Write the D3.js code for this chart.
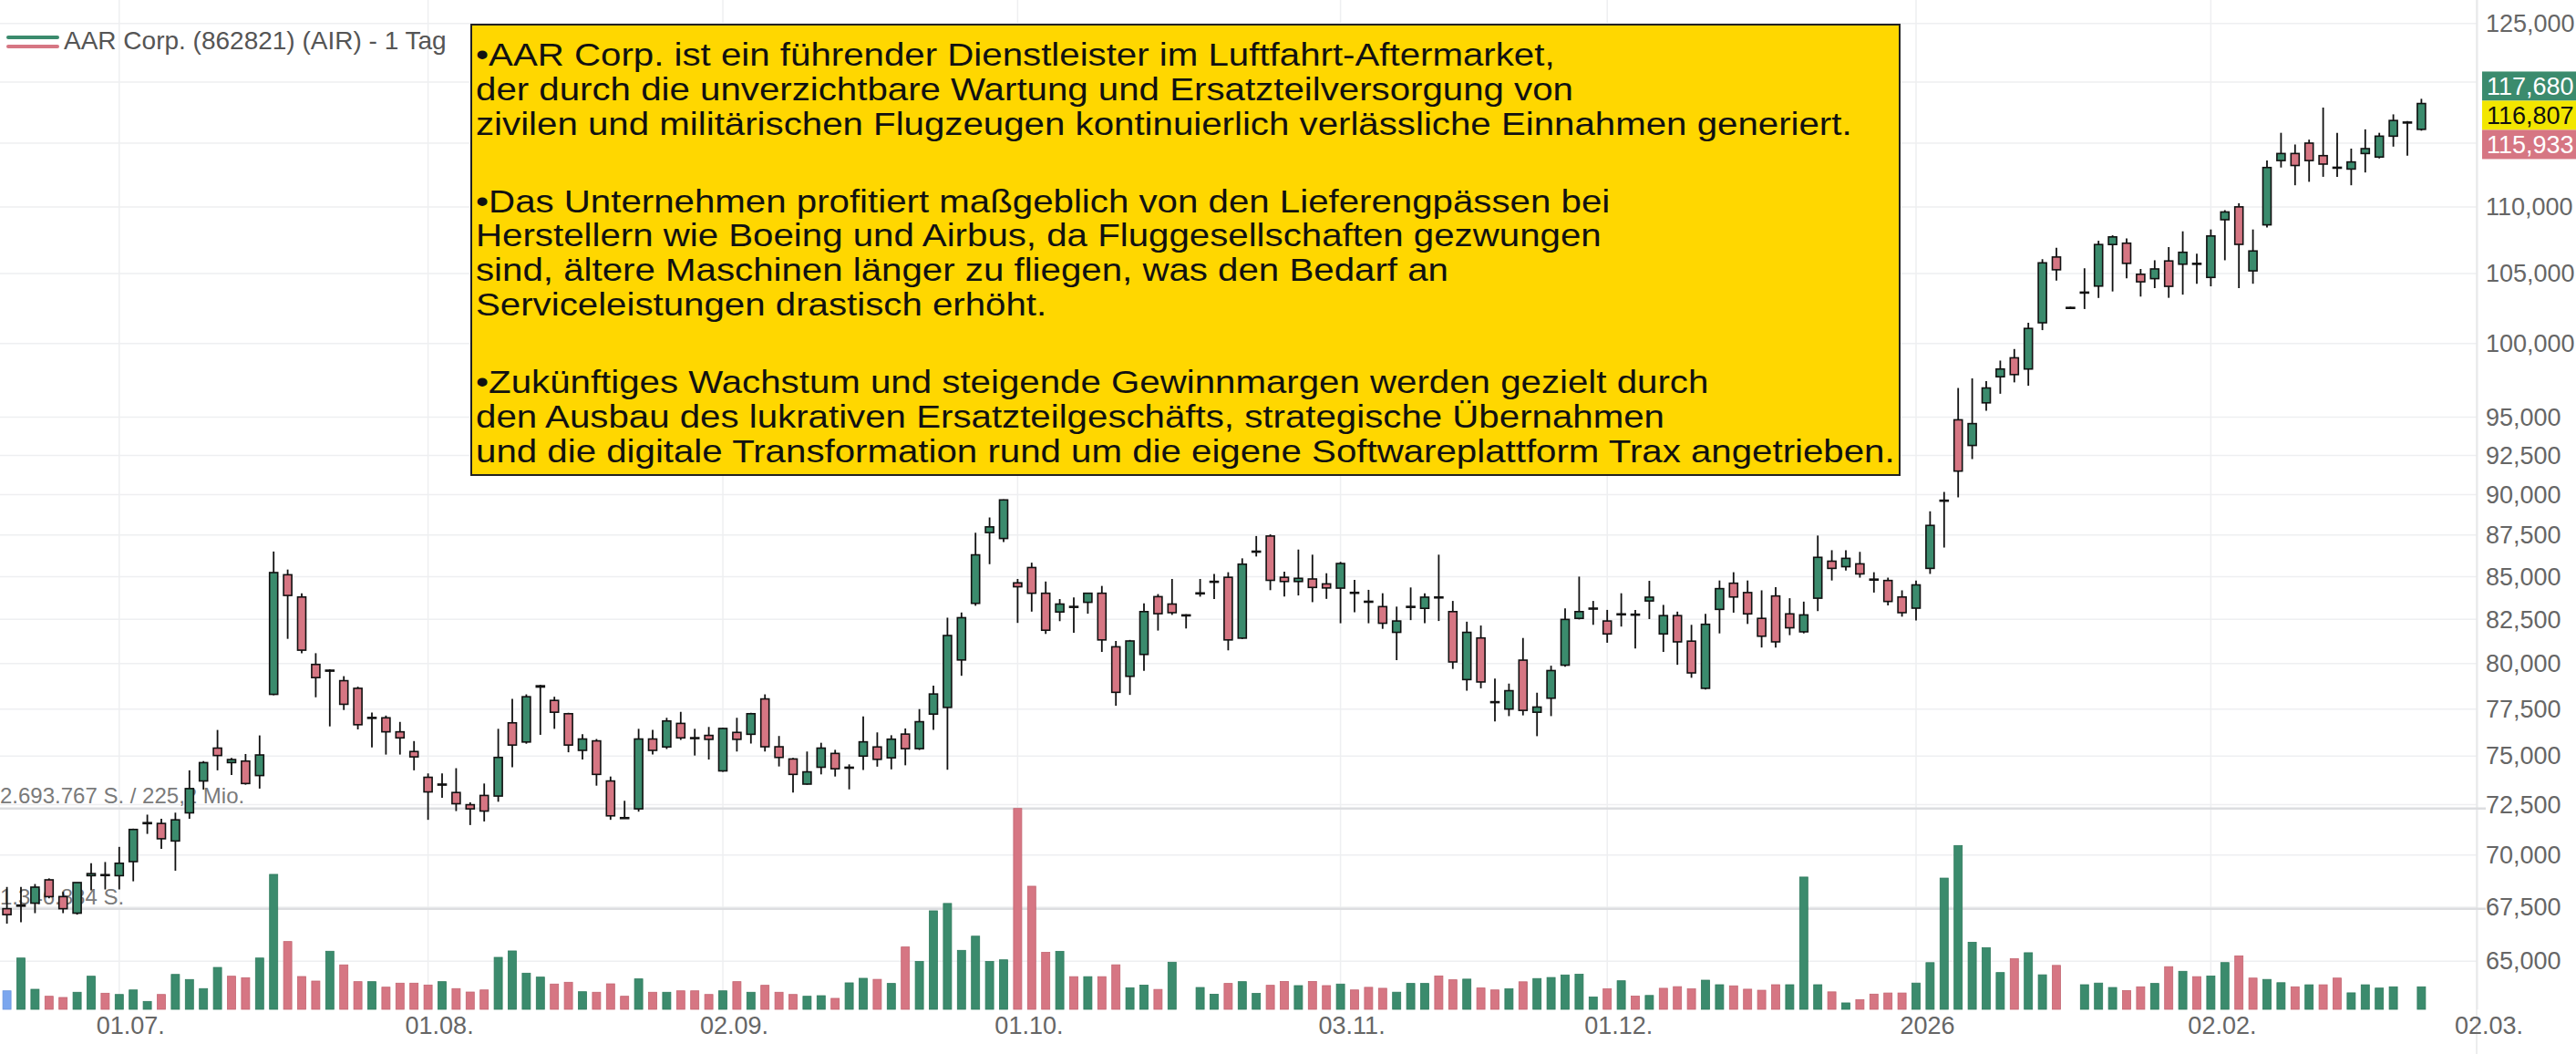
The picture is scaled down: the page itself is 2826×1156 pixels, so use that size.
<!DOCTYPE html>
<html>
<head>
<meta charset="utf-8">
<script src="https://cdn.jsdelivr.net/npm/d3@7"></script>
<style>
  html, body { margin: 0; padding: 0; background: #fff; }
  svg { display: block; font-family: "Liberation Sans", Arial, sans-serif; }
</style>
</head>
<body>
<div id="chart"></div>
<script>
// daily candles, index 0 = 18.06.2025
var opens = [67.43,67.55,67.69,68.8,68.0,67.22,69.0,69.05,69.0,69.68,71.55,71.56,70.69,72.09,73.71,75.42,74.66,74.74,73.99,78.3,
  85.11,83.8,79.95,79.63,79.05,78.63,77.0,77.03,76.28,75.24,73.9,73.5,73.12,72.5,72.97,72.94,76.76,75.74,78.77,77.97,
  77.25,75.3,75.8,73.71,71.85,72.29,75.9,75.48,76.73,75.97,76.09,74.23,76.25,76.15,78.05,75.49,74.85,73.55,74.42,75.14,
  74.42,75.0,75.48,74.91,76.16,75.39,77.23,77.59,80.2,83.43,87.65,87.29,84.63,85.54,84.02,82.93,83.2,83.49,84.02,80.94,
  79.29,80.51,83.82,83.39,82.76,84.0,84.7,84.96,81.43,86.5,87.44,84.96,84.71,84.86,84.57,84.32,84.05,83.55,83.24,81.76,
  83.22,83.14,83.8,82.95,79.11,81.44,77.85,77.5,80.19,77.33,78.09,79.91,82.56,83.12,82.41,82.8,82.8,83.57,81.67,82.72,
  81.26,78.63,83.08,84.61,84.06,82.56,83.86,82.82,81.79,83.73,85.92,85.59,85.76,84.85,84.77,83.8,83.15,85.49,89.6,94.82,
  93.14,95.95,97.71,99.01,98.24,101.46,106.22,102.5,103.6,104.09,107.15,107.25,104.95,104.63,105.93,105.69,105.7,104.72,109.02,110.0,
  105.2,108.63,113.61,114.17,115.0,114.0,113.05,112.94,114.17,113.89,115.56,116.65,116.11];
var highs = [68.46,68.46,68.6,68.87,68.22,68.67,69.6,69.66,70.4,71.3,72.0,71.79,72.1,74.26,74.74,76.38,74.9,75.11,76.09,86.5,
  85.42,84.02,80.58,79.68,79.3,78.72,77.31,77.15,76.81,75.79,74.1,74.1,74.37,72.62,73.58,76.44,78.05,78.3,78.82,78.17,
  77.3,76.16,75.9,73.94,72.7,76.44,76.38,77.03,77.35,76.44,76.54,76.5,77.03,77.3,78.3,76.06,74.9,75.24,75.7,75.33,
  74.57,77.11,76.25,76.1,76.46,77.5,78.78,82.6,82.9,87.64,88.58,89.7,84.86,85.83,84.71,83.68,83.78,84.05,84.45,81.27,
  81.33,83.43,83.97,84.86,82.8,84.86,85.16,85.26,86.09,87.44,87.54,85.29,86.62,86.31,85.2,85.88,84.8,84.22,84.02,83.24,
  84.36,84.02,86.31,83.57,82.37,82.15,79.16,78.89,81.44,78.39,79.88,83.14,85.0,83.57,83.05,84.02,83.05,84.75,83.34,82.95,
  82.19,82.82,84.77,85.26,84.77,84.19,84.38,83.73,83.53,87.47,86.58,86.58,86.48,85.26,84.94,84.19,84.77,88.96,90.17,96.95,
  97.6,97.41,98.82,99.62,101.46,106.06,106.91,102.6,105.39,107.43,107.84,107.6,105.34,105.98,106.96,108.14,106.47,108.28,109.75,110.28,
  108.28,113.61,115.83,114.89,115.28,117.89,115.83,114.56,116.11,115.83,117.33,116.78,118.61];
var lows = [66.73,66.8,67.22,67.92,67.22,67.15,68.3,68.34,68.34,68.73,71.04,70.3,69.24,71.79,73.27,74.26,74.02,73.52,73.32,78.25,
  81.39,80.58,78.14,76.57,77.45,76.41,75.45,75.08,75.08,74.26,71.74,72.85,72.18,71.48,71.66,72.65,74.42,75.65,76.12,76.44,
  75.2,74.82,73.47,71.74,71.8,72.15,75.09,75.37,75.85,75.03,74.82,74.18,75.24,75.66,75.24,74.46,73.12,73.52,74.05,73.94,
  73.28,74.28,74.45,74.31,74.52,75.32,76.39,74.29,79.32,83.29,85.74,87.07,82.3,82.95,81.67,82.4,81.73,82.83,80.65,77.68,
  78.27,79.59,81.86,82.76,81.98,83.82,83.68,80.74,81.38,86.2,84.2,83.83,83.89,83.5,83.69,82.28,82.91,82.28,81.96,80.19,
  82.46,82.28,82.41,79.7,78.5,78.63,76.83,77.12,77.16,76.05,77.12,79.82,82.5,82.19,81.17,82.09,80.85,82.52,80.65,79.93,
  79.21,78.57,81.7,82.89,82.24,80.9,80.9,81.6,81.7,82.98,84.77,85.36,84.94,84.06,83.31,82.66,82.44,85.16,86.74,89.83,
  92.26,95.42,96.56,97.33,97.1,100.94,104.49,102.45,102.44,103.23,103.7,104.65,103.33,103.94,103.24,103.47,104.26,104.07,105.98,103.94,
  104.26,108.43,113.06,111.67,111.94,112.33,112.33,111.67,112.67,113.78,114.72,114.0,116.0];
var closes = [67.15,67.6,68.45,68.0,67.43,68.67,69.1,69.02,69.6,71.26,71.6,70.8,71.74,73.32,74.66,75.03,74.82,73.58,75.06,85.24,
  83.89,80.75,79.22,79.6,77.76,76.66,77.05,76.28,75.96,74.96,73.15,73.55,72.55,72.29,72.18,74.93,75.58,78.17,78.7,77.33,
  75.58,75.9,74.05,71.94,71.83,75.9,75.3,76.86,75.96,75.93,75.88,76.46,75.88,77.25,75.49,74.93,74.05,74.18,75.42,74.34,
  74.4,75.75,74.83,75.89,75.39,76.82,78.32,81.58,82.6,86.3,88.0,89.67,84.4,84.02,81.88,83.39,83.25,84.02,81.33,78.41,
  81.27,82.95,82.83,82.89,82.74,84.04,84.72,81.33,85.74,86.52,84.78,84.71,84.9,84.36,84.33,85.78,84.07,83.52,82.28,82.41,
  83.25,83.79,83.78,80.09,81.76,78.98,77.9,78.5,77.43,77.61,79.61,82.5,82.95,83.15,81.67,82.82,82.78,83.79,82.72,81.22,
  79.48,82.22,84.29,83.8,82.82,81.54,81.22,82.02,82.76,86.15,85.49,86.09,85.16,84.83,83.54,82.89,84.51,88.09,89.65,91.49,
  94.57,96.95,98.24,97.86,101.06,105.79,105.28,102.55,103.65,107.15,107.72,105.75,104.4,105.34,104.07,106.57,105.75,107.79,109.61,107.16,
  106.67,113.06,114.17,113.22,113.61,113.33,113.08,113.5,114.56,115.56,116.83,116.7,118.22];
// volume in thousand shares
var volumes = [248,688,269,175,159,229,444,216,199,260,106,199,468,400,278,562,444,424,688,1810,
  909,440,379,779,596,371,371,297,351,351,326,371,278,232,260,697,783,485,432,339,
  363,236,229,342,175,408,229,229,248,248,199,248,371,229,322,229,199,175,183,147,
  355,416,402,347,836,642,1321,1420,791,981,642,664,2693.767,1651,764,778,438,438,438,597,
  289,325,267,632,0,293,203,347,371,213,322,374,318,374,318,339,260,295,282,230,
  347,347,448,396,405,286,260,274,369,413,427,461,470,164,274,383,177,186,282,304,
  274,391,330,315,270,256,330,330,1774,330,234,86,130,204,219,219,352,626,1760,2197,
  900,827,493,679,759,463,589,0,330,352,293,251,302,347,572,510,438,446,627,717,
  419,401,357,302,329,329,419,221,329,285,302,0,302];

var tickIndex = [8, 30, 51, 72, 95, 114, 136, 157, 176];
var tickLabels = ["01.07.", "01.08.", "02.09.", "01.10.", "03.11.", "01.12.", "2026", "02.02.", "02.03."];
var priceTicks = [65, 67.5, 70, 72.5, 75, 77.5, 80, 82.5, 85, 87.5, 90, 92.5, 95, 100, 105, 110, 115, 120, 125];
var quoteValues = [117.68, 116.807, 115.933];
var quoteColors = ["#3b8b6d", "#f2e600", "#d67683"];
var quoteText = ["#fff", "#111", "#fff"];

var noteLines = [
  "\u2022AAR Corp. ist ein führender Dienstleister im Luftfahrt-Aftermarket,",
  "der durch die unverzichtbare Wartung und Ersatzteilversorgung von",
  "zivilen und militärischen Flugzeugen kontinuierlich verlässliche Einnahmen generiert.",
  "",
  "\u2022Das Unternehmen profitiert maßgeblich von den Lieferengpässen bei",
  "Herstellern wie Boeing und Airbus, da Fluggesellschaften gezwungen",
  "sind, ältere Maschinen länger zu fliegen, was den Bedarf an",
  "Serviceleistungen drastisch erhöht.",
  "",
  "\u2022Zukünftiges Wachstum und steigende Gewinnmargen werden gezielt durch",
  "den Ausbau des lukrativen Ersatzteilgeschäfts, strategische Übernahmen",
  "und die digitale Transformation rund um die eigene Softwareplattform Trax angetrieben."
];

var W = 2826, H = 1156;
var plotRight = 2717, baseY = 1107;
var green = "#3b8b6d", red = "#d67683";

var candles = opens.map(function(o, i) {
  return {i: i, o: o, h: highs[i], l: lows[i], c: closes[i], v: volumes[i]};
});

var x = d3.scaleLinear().domain([0, 176]).range([7.6, 2718]);
var y = d3.scaleLog().domain([62.86, 127.07]).range([baseY, 0]);
var volMax = d3.max(volumes);
var yVol = d3.scaleLinear().domain([0, volMax]).range([baseY, 886.7]);

var fmtPrice = function(v) { return d3.format(".3f")(v).replace(".", ","); };
var fmtShares = function(v) { return d3.format(",")(Math.round(v)).replace(/,/g, ".") + " S."; };

var svg = d3.select("#chart")
  .append("svg")
  .attr("width", W)
  .attr("height", H);

svg.append("rect").attr("width", W).attr("height", H).attr("fill", "#fff");

/*
  grid
*/
svg.append("g")
  .selectAll("line")
  .data(priceTicks)
  .enter()
  .append("line")
  .attr("x1", 0)
  .attr("x2", plotRight)
  .attr("y1", function(d) { return y(d); })
  .attr("y2", function(d) { return y(d); })
  .attr("stroke", "#eeeff1")
  .attr("stroke-width", 1.5);

svg.append("g")
  .selectAll("line")
  .data(tickIndex)
  .enter()
  .append("line")
  .attr("x1", function(d) { return x(d); })
  .attr("x2", function(d) { return x(d); })
  .attr("y1", 0)
  .attr("y2", baseY)
  .attr("stroke", "#eeeff1")
  .attr("stroke-width", 1.5);

svg.append("line")
  .attr("x1", plotRight).attr("x2", plotRight)
  .attr("y1", 0).attr("y2", H)
  .attr("stroke", "#e6e7e9")
  .attr("stroke-width", 1.5);

/*
  volume reference lines (max and half)
*/
var volRefs = [volMax, volMax / 2];
svg.append("g")
  .selectAll("line")
  .data(volRefs)
  .enter()
  .append("line")
  .attr("x1", 0)
  .attr("x2", plotRight + 10)
  .attr("y1", function(d) { return yVol(d); })
  .attr("y2", function(d) { return yVol(d); })
  .attr("stroke", "#dcdde0")
  .attr("stroke-width", 2.5);

svg.append("text")
  .attr("x", 0)
  .attr("y", yVol(volMax) - 6)
  .attr("font-size", 24)
  .attr("fill", "#7a7a7a")
  .text(fmtShares(volMax * 1000) + " / 225,2 Mio.");

svg.append("text")
  .attr("x", 0)
  .attr("y", yVol(volMax / 2) - 5)
  .attr("font-size", 24)
  .attr("fill", "#7a7a7a")
  .text(fmtShares(volMax * 500));

/*
  volume bars, coloured by close vs previous close
*/
svg.append("g")
  .selectAll("rect")
  .data(candles.filter(function(d) { return d.v > 0; }))
  .enter()
  .append("rect")
  .attr("x", function(d) { return x(d.i) - 4.5; })
  .attr("width", 9)
  .attr("y", function(d) { return yVol(d.v); })
  .attr("height", function(d) { return baseY - yVol(d.v); })
  .attr("fill", function(d) {
    if (d.i === 0) return "#7ba6ee";
    return d.c >= closes[d.i - 1] ? green : red;
  })
  .attr("stroke", function(d) {
    if (d.i === 0) return "#6a95dd";
    return d.c >= closes[d.i - 1] ? "#2f7a5d" : "#c26470";
  })
  .attr("stroke-width", 0.8);

/*
  candles
*/
var cg = svg.append("g");
cg.selectAll("line")
  .data(candles)
  .enter()
  .append("line")
  .attr("x1", function(d) { return x(d.i); })
  .attr("x2", function(d) { return x(d.i); })
  .attr("y1", function(d) { return y(d.h); })
  .attr("y2", function(d) { return y(d.l); })
  .attr("stroke", "#111")
  .attr("stroke-width", 1.8);

cg.selectAll("rect")
  .data(candles)
  .enter()
  .append("rect")
  .attr("x", function(d) { return x(d.i) - 4.5; })
  .attr("width", 9)
  .attr("y", function(d) { return y(Math.max(d.o, d.c)); })
  .attr("height", function(d) { return Math.max(1, y(Math.min(d.o, d.c)) - y(Math.max(d.o, d.c))); })
  .attr("fill", function(d) { return d.c >= d.o ? green : red; })
  .attr("stroke", "#111")
  .attr("stroke-width", 1.6);

/*
  note box
*/
var note = svg.append("g");
note.append("rect")
  .attr("x", 517)
  .attr("y", 27)
  .attr("width", 1567)
  .attr("height", 494)
  .attr("fill", "#ffd700")
  .attr("stroke", "#222")
  .attr("stroke-width", 2);

var lineY = 72;
noteLines.forEach(function(t) {
  if (t === "") { lineY += 47.2; return; }
  note.append("text")
    .attr("transform", "translate(522," + lineY + ") scale(1.15,1)")
    .attr("font-size", 35)
    .attr("fill", "#111")
    .text(t);
  lineY += 37.8;
});

/*
  axes
*/
var yAxis = d3.axisRight(y)
  .tickValues(priceTicks)
  .tickFormat(fmtPrice)
  .tickSize(0)
  .tickPadding(10);

var yg = svg.append("g")
  .attr("transform", "translate(" + plotRight + ",0)")
  .call(yAxis);
yg.select(".domain").remove();
yg.selectAll("text")
  .attr("font-size", 27)
  .attr("fill", "#666")
  .attr("font-family", "Liberation Sans, Arial, sans-serif");

var xAxis = d3.axisBottom(x)
  .tickValues(tickIndex)
  .tickFormat(function(d, i) { return tickLabels[i]; })
  .tickSize(0)
  .tickPadding(8);

var xg = svg.append("g")
  .attr("transform", "translate(12," + baseY + ")")
  .call(xAxis);
xg.select(".domain").remove();
xg.selectAll("text")
  .attr("font-size", 27)
  .attr("fill", "#666")
  .attr("font-family", "Liberation Sans, Arial, sans-serif");

/*
  quote boxes on the price axis
*/
var midY = y(quoteValues[1]) - 6;
var qg = svg.append("g")
  .selectAll("g")
  .data(quoteValues)
  .enter()
  .append("g")
  .attr("transform", function(d, i) { return "translate(2723," + (midY + (i - 1) * 32 - 16) + ")"; });

qg.append("rect")
  .attr("width", W - 2723)
  .attr("height", 32)
  .attr("fill", function(d, i) { return quoteColors[i]; });

qg.append("text")
  .attr("x", 5)
  .attr("y", 26)
  .attr("font-size", 27)
  .attr("fill", function(d, i) { return quoteText[i]; })
  .text(function(d) { return fmtPrice(d); });

/*
  legend
*/
svg.append("line")
  .attr("x1", 9).attr("x2", 63).attr("y1", 41).attr("y2", 41)
  .attr("stroke", green).attr("stroke-width", 4).attr("stroke-linecap", "round");
svg.append("line")
  .attr("x1", 9).attr("x2", 63).attr("y1", 51).attr("y2", 51)
  .attr("stroke", red).attr("stroke-width", 4).attr("stroke-linecap", "round");
svg.append("text")
  .attr("x", 70)
  .attr("y", 54)
  .attr("font-size", 28)
  .attr("fill", "#555")
  .text("AAR Corp. (862821) (AIR) - 1 Tag");
</script>
</body>
</html>
